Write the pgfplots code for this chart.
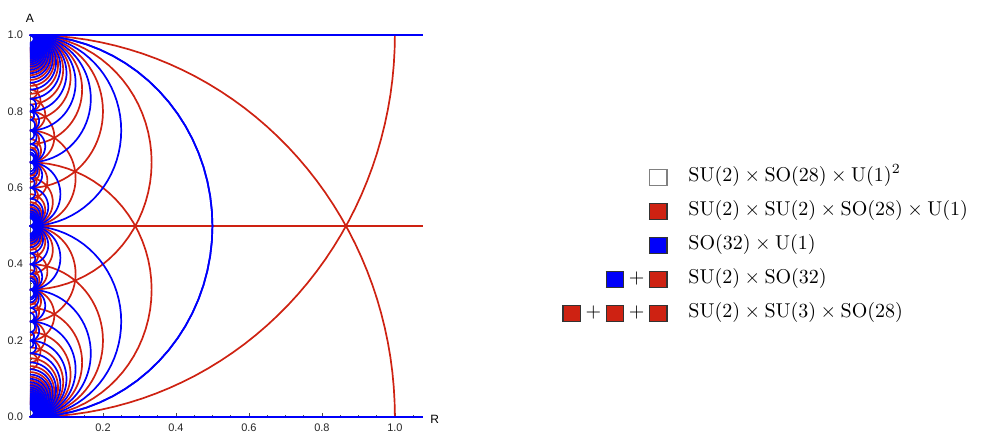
\documentclass[border=0pt]{standalone}
\usepackage{pgfplots}
\pgfplotsset{compat=1.18}
\usepackage{fontspec}
\newfontfamily\helv{Liberation Sans}

\definecolor{cred}{RGB}{206,34,18}
\definecolor{cblue}{RGB}{0,0,250}

% geodesic semicircle with end points a<b on the A axis, plus its mirror A -> 1-A
% #1 options (domain), #2 colour, #3 a, #4 b
\newcommand\arcpair[4][domain=0:180]{%
  \addplot[#2, line width=0.85pt, #1, samples=41]
    ({((#4)-(#3))/2*sin(x)}, {((#3)+(#4))/2+((#4)-(#3))/2*cos(x)});
  \addplot[#2, line width=0.85pt, #1, samples=41]
    ({((#4)-(#3))/2*sin(x)}, {1-((#3)+(#4))/2-((#4)-(#3))/2*cos(x)});
}
\newcommand\redarc[3][domain=0:180]{\arcpair[#1]{cred}{#2}{#3}}
\newcommand\bluearc[3][domain=0:180]{\arcpair[#1]{cblue}{#2}{#3}}

% legend swatch
\newcommand\sw[2][black!80]{{\setlength\fboxsep{0pt}\setlength\fboxrule{0.6pt}%
  \raisebox{-2pt}{\fcolorbox{#1}{#2}{\rule{0pt}{7.6pt}\rule{8.2pt}{0pt}}}}}

\begin{document}
\begin{tikzpicture}
\useasboundingbox (0,0) rectangle (491pt,218pt);
\begin{axis}[
    at={(15pt,9.5pt)}, anchor=south west,
    scale only axis, width=196.5pt, height=191pt,
    xmin=0, xmax=1.077, ymin=0, ymax=1,
    clip=false,
    axis lines=left,
    axis line style={-, draw=gray!70!black, line width=0.4pt},
    tick align=inside,
    major tick length=2.2pt, minor tick length=1.2pt,
    tick style={gray!60!black, line width=0.4pt},
    xtick={0.2,0.4,0.6,0.8,1.0},
    minor xtick={0.05,0.1,0.15,0.25,0.3,0.35,0.45,0.5,0.55,0.65,0.7,0.75,0.85,0.9,0.95,1.05},
    ytick={0,0.2,0.4,0.6,0.8,1.0},
    minor ytick={0.05,0.1,0.15,0.25,0.3,0.35,0.45,0.5,0.55,0.65,0.7,0.75,0.85,0.9,0.95},
    /pgf/number format/.cd, fixed, fixed zerofill, precision=1, assume math mode=true, /pgfplots/.cd,
    ticklabel style={font=\helv\fontsize{5.5}{6}\selectfont, text=black!85},
    xlabel={R}, ylabel={A},
    every axis x label/.style={at={(axis description cs:1,0)}, anchor=west, xshift=3.5pt, yshift=-1pt, inner sep=0pt, font=\helv\fontsize{6}{7}\selectfont},
    every axis y label/.style={at={(axis description cs:0,1)}, anchor=south, yshift=6pt, inner sep=0pt, font=\helv\fontsize{6}{7}\selectfont},
]
% ---- red: SU(2) x SU(2) x SO(28) x U(1)
\addplot[cred, line width=0.85pt] coordinates {(0,0.5) (1.077,0.5)};
\redarc[domain=0:90]{-1}{1}
\redarc{1/3}{1}
\redarc{1/4}{1/2} \redarc{3/8}{1/2} \redarc{5/12}{1/2} \redarc{7/16}{1/2}
\redarc{9/20}{1/2} \redarc{11/24}{1/2} \redarc{13/28}{1/2}
\redarc{1/5}{1/3} \redarc{3/11}{1/3} \redarc{5/17}{1/3}
\redarc{1/3}{3/7} \redarc{1/3}{5/13} \redarc{1/3}{7/19}
\redarc{1/6}{1/4} \redarc{1/4}{3/10} \redarc{3/14}{1/4}
\redarc{1/7}{1/5} \redarc{2/5}{4/9} \redarc{4/11}{2/5}
\redarc{1/8}{1/6}
\redarc{0}{2/5} \redarc{0}{2/7} \redarc{0}{2/9} \redarc{0}{2/11} \redarc{0}{2/13}
\redarc{0}{2/15} \redarc{0}{2/17} \redarc{0}{2/19} \redarc{0}{2/21} \redarc{0}{2/23}
\redarc{0}{2/25} \redarc{0}{2/27} \redarc{0}{2/29} \redarc{0}{2/31} \redarc{0}{2/33}
\redarc{0}{2/35} \redarc{0}{2/37} \redarc{0}{2/39} \redarc{0}{2/41} \redarc{0}{2/43}
\redarc{0}{2/45} \redarc{0}{2/47} \redarc{0}{2/49} \redarc{0}{2/51} \redarc{0}{2/53}
\redarc{0}{2/55} \redarc{0}{2/57} \redarc{0}{2/59}
% ---- blue: SO(32) x U(1)
\addplot[cblue, line width=0.85pt] coordinates {(0,0) (1.077,0)};
\addplot[cblue, line width=0.85pt] coordinates {(0,1) (1.077,1)};
\bluearc{0}{1}
\bluearc{0}{1/2} \bluearc{0}{1/3} \bluearc{0}{1/4} \bluearc{0}{1/5} \bluearc{0}{1/6}
\bluearc{0}{1/7} \bluearc{0}{1/8} \bluearc{0}{1/9} \bluearc{0}{1/10} \bluearc{0}{1/11}
\bluearc{0}{1/12} \bluearc{0}{1/13} \bluearc{0}{1/14} \bluearc{0}{1/15} \bluearc{0}{1/16}
\bluearc{0}{1/17} \bluearc{0}{1/18} \bluearc{0}{1/19} \bluearc{0}{1/20} \bluearc{0}{1/21}
\bluearc{0}{1/22} \bluearc{0}{1/23} \bluearc{0}{1/24} \bluearc{0}{1/25} \bluearc{0}{1/26}
\bluearc{0}{1/27} \bluearc{0}{1/28} \bluearc{0}{1/29} \bluearc{0}{1/30} \bluearc{0}{1/32}
\bluearc{0}{1/34} \bluearc{0}{1/36} \bluearc{0}{1/38} \bluearc{0}{1/40} \bluearc{0}{1/43}
\bluearc{0}{1/46} \bluearc{0}{1/50}
\bluearc{1/3}{1/2} \bluearc{2/5}{1/2} \bluearc{3/7}{1/2} \bluearc{4/9}{1/2}
\bluearc{5/11}{1/2} \bluearc{6/13}{1/2} \bluearc{7/15}{1/2} \bluearc{8/17}{1/2}
\bluearc{9/19}{1/2} \bluearc{10/21}{1/2} \bluearc{11/23}{1/2} \bluearc{12/25}{1/2}
\bluearc{1/4}{1/3} \bluearc{2/7}{1/3} \bluearc{3/10}{1/3} \bluearc{4/13}{1/3} \bluearc{5/16}{1/3}
\bluearc{1/3}{2/5} \bluearc{1/3}{3/8} \bluearc{1/3}{4/11} \bluearc{1/3}{5/14}
\bluearc{1/5}{1/4} \bluearc{2/9}{1/4} \bluearc{1/4}{2/7} \bluearc{1/4}{3/11}
\bluearc{1/6}{1/5} \bluearc{2/11}{1/5} \bluearc{1/5}{2/9}
\bluearc{2/5}{3/7} \bluearc{3/8}{2/5}
\end{axis}

% legend
\begin{scope}[every node/.style={inner sep=0pt}]
\node[anchor=base east] at (334pt,127.5pt) {\sw[gray]{white}};
\node[anchor=base east] at (334pt,110.5pt) {\sw{cred}};
\node[anchor=base east] at (334pt,93.5pt) {\sw{cblue}};
\node[anchor=base east] at (334pt,76.5pt) {\sw{cblue}\hspace{2.2pt}+\hspace{2.2pt}\sw{cred}};
\node[anchor=base east] at (334pt,59.5pt) {\sw{cred}\hspace{2.2pt}+\hspace{2.2pt}\sw{cred}\hspace{2.2pt}+\hspace{2.2pt}\sw{cred}};
\node[anchor=base west] at (344pt,127.5pt) {$\mathrm{SU}(2)\times\mathrm{SO}(28)\times\mathrm{U}(1)^2$};
\node[anchor=base west] at (344pt,110.5pt) {$\mathrm{SU}(2)\times\mathrm{SU}(2)\times\mathrm{SO}(28)\times\mathrm{U}(1)$};
\node[anchor=base west] at (344pt,93.5pt) {$\mathrm{SO}(32)\times\mathrm{U}(1)$};
\node[anchor=base west] at (344pt,76.5pt) {$\mathrm{SU}(2)\times\mathrm{SO}(32)$};
\node[anchor=base west] at (344pt,59.5pt) {$\mathrm{SU}(2)\times\mathrm{SU}(3)\times\mathrm{SO}(28)$};
\end{scope}
\end{tikzpicture}
\end{document}
